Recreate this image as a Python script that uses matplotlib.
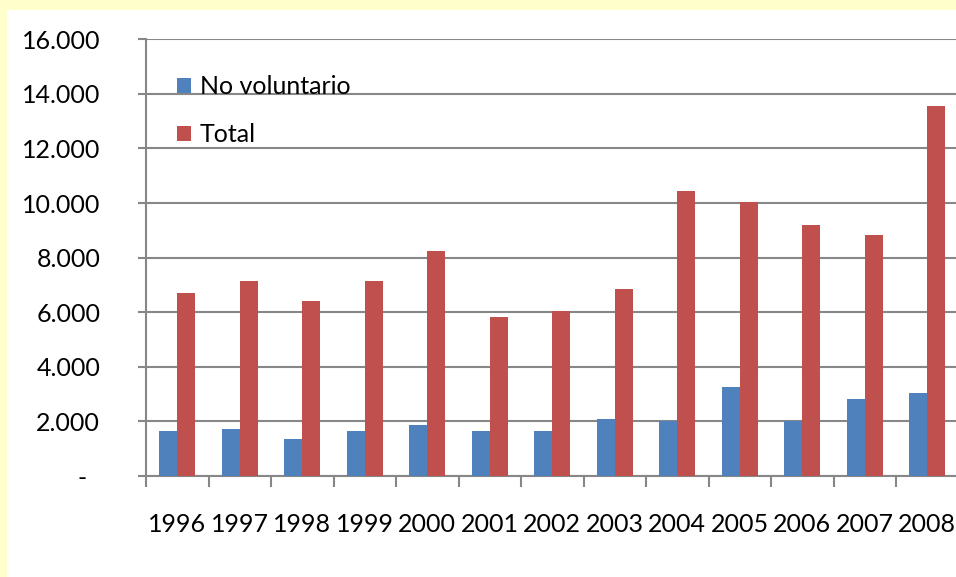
import matplotlib.pyplot as plt
from matplotlib.patches import Rectangle, Patch
import numpy as np

# datos
years = ['1996', '1997', '1998', '1999', '2000', '2001', '2002',
         '2003', '2004', '2005', '2006', '2007', '2008']
no_voluntario = [1640, 1710, 1345, 1640, 1860, 1640, 1640,
                 2080, 2030, 3260, 2010, 2815, 3035]
total = [6710, 7140, 6415, 7140, 8245, 5825, 6045,
         6855, 10455, 10025, 9205, 8835, 13540]
y_ticks = [0, 2000, 4000, 6000, 8000, 10000, 12000, 14000, 16000]
y_labels = ['-  ', '2.000', '4.000', '6.000', '8.000', '10.000',
            '12.000', '14.000', '16.000']

plt.rcParams['font.family'] = ['Lato', 'DejaVu Sans']
fs = 18

fig = plt.figure(figsize=(9.56, 5.77), dpi=100)
fig.patch.set_facecolor('#FFFFCC')
# fondo blanco del grafico (borde amarillo arriba e izquierda)
fig.patches.append(Rectangle((7 / 956, 0), 1, 1 - 10 / 577, transform=fig.transFigure,
                             facecolor='white', edgecolor='none', zorder=-10))

ax = fig.add_axes([146 / 956, 101 / 577, 812.5 / 956, 436.7 / 577])
ax.set_facecolor('none')

x = np.arange(len(years))
w = 0.2857
ax.bar(x - w / 2, no_voluntario, w, color='#4F81BD', zorder=3)
ax.bar(x + w / 2, total, w, color='#C0504D', zorder=3)

ax.set_xlim(-0.5, len(years) - 0.5)
ax.set_ylim(0, 16000)

grid_c = '#878787'
ax.set_yticks(y_ticks)
ax.set_yticklabels(y_labels, fontsize=fs)
ax.yaxis.grid(True, color=grid_c, linewidth=1.5, zorder=1)
ax.set_axisbelow(True)
ax.tick_params(axis='y', length=6, width=1.5, color=grid_c, pad=27)

# ticks entre categorias, etiquetas centradas
ax.set_xticks(np.arange(-0.5, len(years), 1.0))
ax.set_xticklabels([])
ax.set_xticks(x, minor=True)
ax.set_xticklabels(years, minor=True, fontsize=fs)
ax.tick_params(axis='x', which='major', length=8, width=1.5, color=grid_c)
ax.tick_params(axis='x', which='minor', length=0, pad=27)

for s in ['top', 'right']:
    ax.spines[s].set_visible(False)
for s in ['left', 'bottom']:
    ax.spines[s].set_color(grid_c)
    ax.spines[s].set_linewidth(1.5)

handles = [Patch(facecolor='#4F81BD', label='No voluntario'),
           Patch(facecolor='#C0504D', label='Total')]
ax.legend(handles=handles, loc='upper left', bbox_to_anchor=(0.038, 0.918),
          frameon=False, fontsize=fs, handlelength=0.56, handleheight=0.56,
          handletextpad=0.35, labelspacing=1.0, borderpad=0, borderaxespad=0)

fig.savefig('out.png', dpi=100, facecolor=fig.get_facecolor())
